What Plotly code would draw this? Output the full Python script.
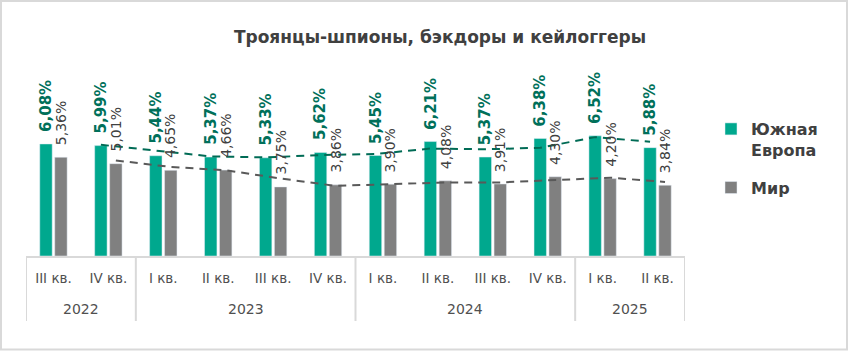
import plotly.graph_objects as go

years = ["2022", "2022", "2023", "2023", "2023", "2023",
         "2024", "2024", "2024", "2024", "2025", "2025"]
quarters = ["III кв.", "IV кв.", "I кв.", "II кв.", "III кв.", "IV кв.",
            "I кв.", "II кв.", "III кв.", "IV кв.", "I кв.", "II кв."]
south_europe = [6.08, 5.99, 5.44, 5.37, 5.33, 5.62, 5.45, 6.21, 5.37, 6.38, 6.52, 5.88]
world = [5.36, 5.01, 4.65, 4.66, 3.75, 3.86, 3.90, 4.08, 3.91, 4.30, 4.20, 3.84]

GREEN = "#00A88E"
GRAY = "#808080"
GREEN_TXT = "#00705A"
GRAY_TXT = "#404040"
AXIS_COL = "#D9D9D9"
LABEL_COL = "#505050"

W, H = 848, 351
ML, MR, MT, MB = 26, 163, 127, 95
PW = W - ML - MR
PH = H - MT - MB

BARGAP = 0.455
OFF = (1 - BARGAP) / 4  # centre offset of each bar within a category

n = len(quarters)
idx = list(range(n))


def fmt(v):
    return f"{v:.2f}".replace(".", ",") + "%"


def moving_avg(vals):
    return [(vals[i - 1] + vals[i]) / 2 for i in range(1, len(vals))]


def px_x(px):
    return (px - ML) / PW


def px_y(py):
    return (H - MB - py) / PH


fig = go.Figure()
fig.add_trace(go.Bar(x=idx, y=south_europe, name="Южная<br>Европа",
                     marker_color=GREEN, legendgroup="a", offsetgroup="a"))
fig.add_trace(go.Bar(x=idx, y=world, name="Мир",
                     marker_color=GRAY, legendgroup="b", offsetgroup="b"))

# 2-period moving-average trend lines
fig.add_trace(go.Scatter(x=[i - OFF for i in idx[1:]], y=moving_avg(south_europe),
                         mode="lines", showlegend=False, hoverinfo="skip",
                         line=dict(color="#006B55", width=2, dash="8px,6px")))
fig.add_trace(go.Scatter(x=[i + OFF for i in idx[1:]], y=moving_avg(world),
                         mode="lines", showlegend=False, hoverinfo="skip",
                         line=dict(color="#595959", width=2, dash="8px,6px")))

annotations = []
for i in idx:
    annotations.append(dict(x=i - OFF, y=south_europe[i], xref="x", yref="y",
                            text=fmt(south_europe[i]), textangle=-90, showarrow=False,
                            yanchor="bottom", xanchor="center", yshift=10,
                            font=dict(family="DejaVu Sans", size=15, color=GREEN_TXT,
                                      weight="bold")))
    annotations.append(dict(x=i + OFF, y=world[i], xref="x", yref="y",
                            text=fmt(world[i]), textangle=-90, showarrow=False,
                            yanchor="bottom", xanchor="center", yshift=10,
                            font=dict(family="DejaVu Sans", size=14, color=GRAY_TXT)))

# year group labels and dividers
groups = []
for i, yv in enumerate(years):
    if not groups or groups[-1][0] != yv:
        groups.append([yv, i, i])
    else:
        groups[-1][2] = i

shapes = []
for yv, a, b in groups:
    annotations.append(dict(x=(a + b) / 2, y=px_y(309), xref="x", yref="paper",
                            text=yv, showarrow=False, yanchor="middle",
                            font=dict(family="DejaVu Sans", size=14, color=LABEL_COL)))
    shapes.append(dict(type="line", xref="x", yref="paper", x0=a - 0.5, x1=a - 0.5,
                       y0=0, y1=px_y(321), line=dict(color=AXIS_COL, width=2)))
shapes.append(dict(type="line", xref="x", yref="paper", x0=n - 0.5, x1=n - 0.5,
                   y0=0, y1=px_y(321), line=dict(color=AXIS_COL, width=2)))

# outer frame
shapes.append(dict(type="rect", xref="paper", yref="paper",
                   x0=px_x(1), x1=px_x(847), y0=px_y(349.5), y1=px_y(1),
                   line=dict(color=AXIS_COL, width=2), fillcolor="rgba(0,0,0,0)",
                   layer="below"))

fig.update_layout(
    width=W, height=H,
    margin=dict(l=ML, r=MR, t=MT, b=MB),
    paper_bgcolor="white", plot_bgcolor="white",
    barmode="group", bargap=BARGAP, bargroupgap=0.17,
    title=dict(text="<b>Троянцы-шпионы, бэкдоры и кейлоггеры</b>",
               x=px_x(440), xref="paper", xanchor="center",
               y=1 - 37 / H, yanchor="middle",
               font=dict(family="DejaVu Sans", size=17, color="#404040")),
    xaxis=dict(range=[-0.5, n - 0.5], tickvals=idx, ticktext=quarters,
               showline=True, linecolor=AXIS_COL, linewidth=2,
               ticks="outside", ticklen=9, tickcolor="rgba(0,0,0,0)",
               showgrid=False, zeroline=False,
               tickfont=dict(family="DejaVu Sans", size=13.5, color=LABEL_COL)),
    yaxis=dict(range=[0, 7], visible=False, showgrid=False, zeroline=False),
    legend=dict(x=px_x(711), y=px_y(112), xanchor="left", yanchor="top",
                traceorder="grouped", tracegroupgap=14, valign="top",
                font=dict(family="DejaVu Sans", size=16, color="#404040", weight="bold"),
                bgcolor="rgba(0,0,0,0)"),
    annotations=annotations,
    shapes=shapes,
    showlegend=True,
)

fig.write_html("out.html")
